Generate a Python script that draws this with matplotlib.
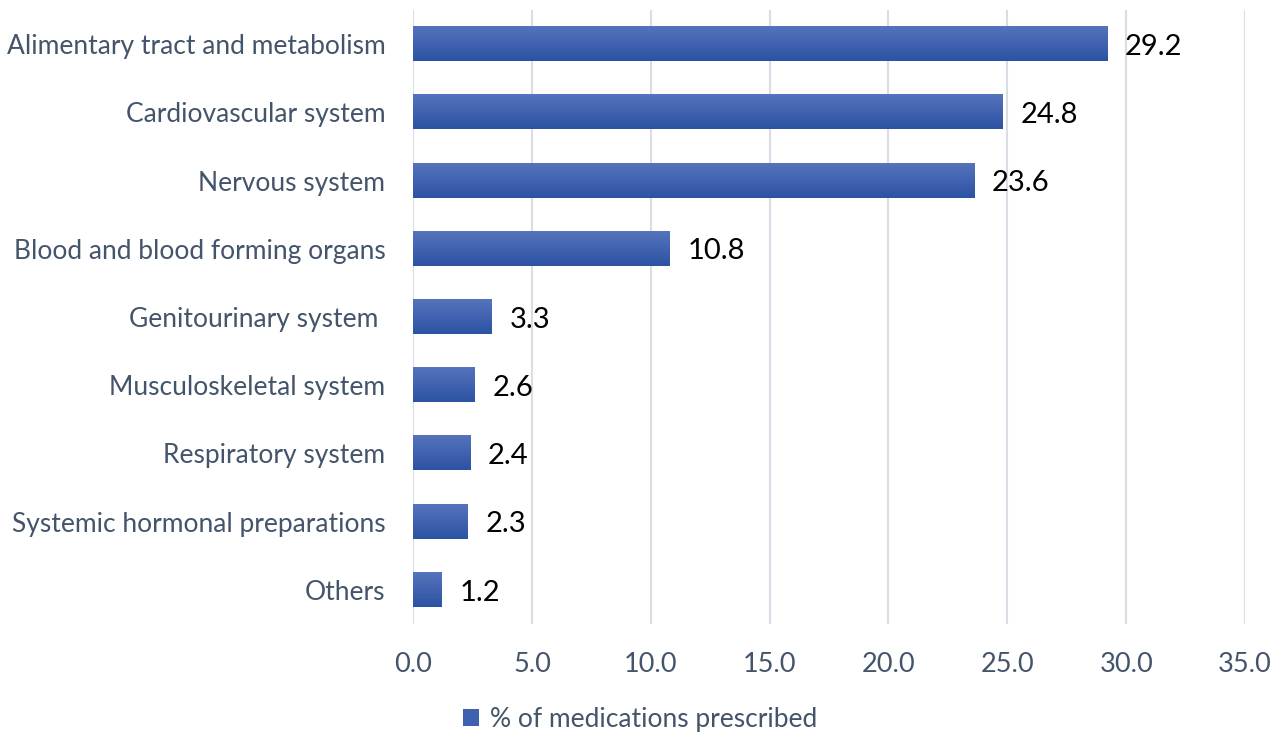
import numpy as np
import matplotlib.pyplot as plt
from matplotlib.colors import LinearSegmentedColormap
from matplotlib.patches import Patch

# dados
categorias = ["Alimentary tract and metabolism", "Cardiovascular system", "Nervous system",
              "Blood and blood forming organs", "Genitourinary system ", "Musculoskeletal system",
              "Respiratory system", "Systemic hormonal preparations", "Others"]
valores = [29.2, 24.8, 23.6, 10.8, 3.3, 2.6, 2.4, 2.3, 1.2]
xticks = [0, 5, 10, 15, 20, 25, 30, 35]

plt.rcParams['font.family'] = ['Lato', 'DejaVu Sans']
cor_texto = '#44546A'

fig = plt.figure(figsize=(12.8, 7.34), dpi=100)
ax = fig.add_axes([0.3227, 0.1499, 0.65, 0.8365])

y = np.arange(len(categorias))
barras = ax.barh(y, valores, height=0.5, color='#3F62B0', edgecolor='none', zorder=2)

# degradê nas barras (mais claro em cima)
cmap = LinearSegmentedColormap.from_list('g', ['#5673BC', '#2C52A3'])
grad = np.linspace(0, 1, 100).reshape(-1, 1)
for b in barras:
    x0, y0 = b.get_x(), b.get_y()
    ax.imshow(grad, extent=[x0, x0 + b.get_width(), y0 + b.get_height(), y0],
              aspect='auto', cmap=cmap, zorder=3, origin='upper')

# rótulos de valor
for yi, v in zip(y, valores):
    ax.text(v + 0.75, yi + 0.04, f"{v:.1f}", va='center', ha='left', fontsize=21, color='black')

ax.set_yticks(y)
ax.set_yticklabels(categorias, fontsize=19, color=cor_texto)
ax.set_xticks(xticks)
ax.set_xticklabels([f"{t:.1f}" for t in xticks], fontsize=19.5, color=cor_texto)
ax.set_xlim(0, 35)
ax.set_ylim(len(categorias) - 0.5, -0.5)

ax.tick_params(axis='both', length=0)
ax.tick_params(axis='y', pad=20)
ax.tick_params(axis='x', pad=20)
ax.grid(axis='x', color='#D9DEE6', linewidth=1.5, zorder=0)
for s in ax.spines.values():
    s.set_visible(False)

# legenda
fig.legend(handles=[Patch(facecolor='#3F62B0', label='% of medications prescribed')],
           loc='center', bbox_to_anchor=(0.5, 0.02), frameon=False, fontsize=19,
           labelcolor=cor_texto, handlelength=0.6, handleheight=0.6, handletextpad=0.4)

fig.savefig('out.png', dpi=100)
